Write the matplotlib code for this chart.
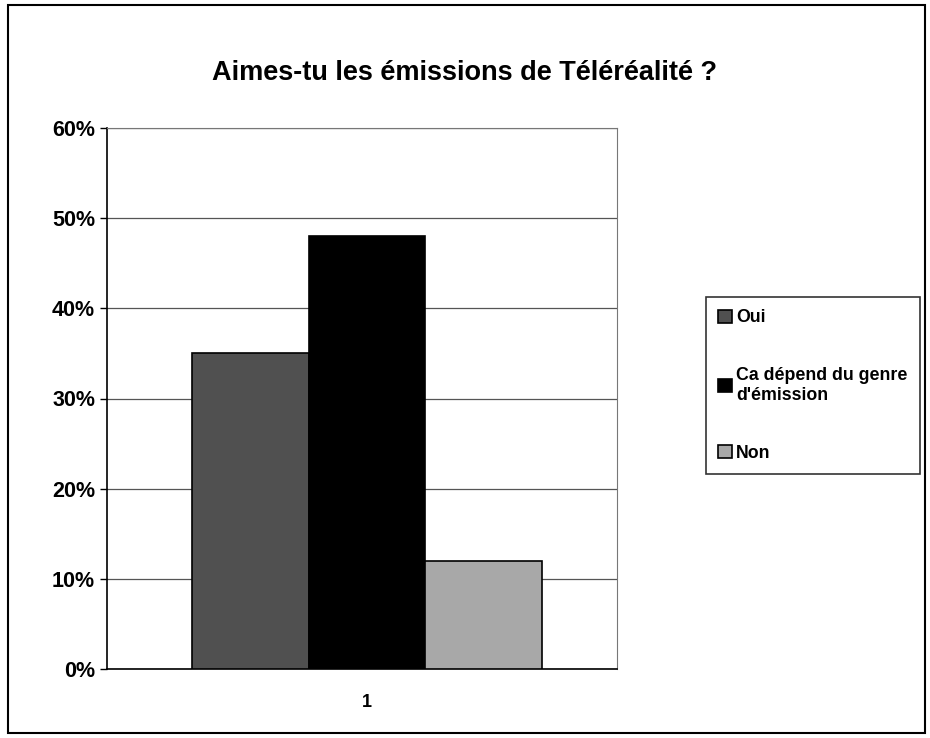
import numpy as np
import matplotlib.pyplot as plt
from matplotlib.patches import Rectangle

plt.rcParams['font.family'] = ['Liberation Sans', 'DejaVu Sans']
plt.rcParams['font.weight'] = 'bold'

# Data
series = ['Oui', "Ca dépend du genre\nd'émission", 'Non']
values = [0.35, 0.48, 0.12]
colors = ['#505050', '#000000', '#a8a8a8']
category = ['1']
y_ticks = [0, 0.1, 0.2, 0.3, 0.4, 0.5, 0.6]

fig = plt.figure(figsize=(9.3, 7.38), dpi=100)

# Outer chart border
fig.patches.append(Rectangle((8 / 930, 5 / 738), 917 / 930, 728 / 738,
                             transform=fig.transFigure, fill=False,
                             edgecolor='black', linewidth=1.5))

ax = fig.add_axes([107 / 930, 69 / 738, 510 / 930, 541 / 738])

bar_w = 0.229
offsets = (np.arange(len(series)) - 1) * bar_w
for off, val, col, name in zip(offsets, values, colors, series):
    ax.bar(off, val, width=bar_w, color=col, edgecolor='black',
           linewidth=1.2, label=name, zorder=3)

ax.set_xlim(-0.51, 0.49)
ax.set_ylim(0, 0.6)
ax.set_yticks(y_ticks)
ax.set_yticklabels([f'{int(round(t * 100))}%' for t in y_ticks], fontsize=15.5, fontweight='bold')
ax.set_xticks([0])
ax.set_xticklabels(category, fontsize=13)
ax.tick_params(axis='x', length=0, pad=18)
ax.tick_params(axis='y', length=5, direction='out', width=1)
ax.yaxis.grid(True, color='#555555', linewidth=0.9, zorder=0)

for side in ['top', 'right']:
    ax.spines[side].set_color('#777777')
    ax.spines[side].set_linewidth(0.8)
ax.spines['left'].set_linewidth(1.2)
ax.spines['bottom'].set_linewidth(1.2)

fig.text(0.5, 1 - 73 / 738, 'Aimes-tu les émissions de Téléréalité ?',
         ha='center', va='center', fontsize=19.5, fontweight='bold')

leg = fig.legend(loc='upper left', bbox_to_anchor=(706 / 930, 1 - 297 / 738),
                 frameon=True, fancybox=False, edgecolor='black',
                 handlelength=0.75, handleheight=0.75,
                 handletextpad=0.25, labelspacing=2.3, borderpad=0.7,
                 borderaxespad=0,
                 prop={'weight': 'bold', 'size': 12.8})
leg.get_frame().set_linewidth(1.2)

fig.savefig('out.png', dpi=100)
